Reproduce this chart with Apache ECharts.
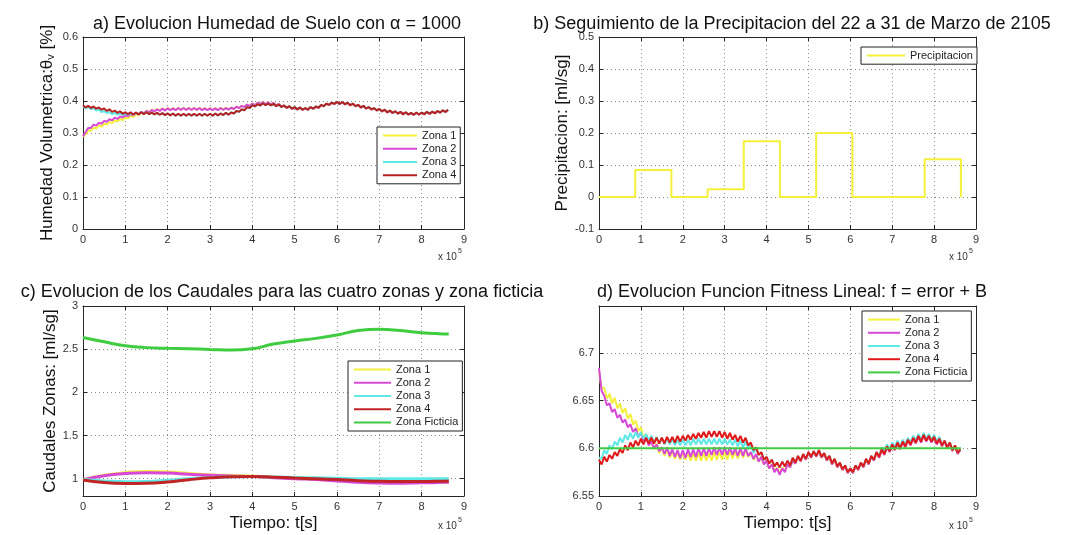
<!DOCTYPE html>
<html>
<head>
<meta charset="utf-8">
<script src="https://cdn.jsdelivr.net/npm/echarts@6/dist/echarts.min.js"></script>
<style>
  html, body { margin: 0; background: #fff; }
  #chart { width: 1079px; height: 535px; }
</style>
</head>
<body>
<div id="chart"></div>
<script>
// --- data ---
// a) and d) are sampled every 6250 s
const sampleStep = 6250;

const humedadZona1 = [
  0.288, 0.296, 0.308, 0.307, 0.317, 0.314, 0.323, 0.320, 0.329, 0.326, 0.334, 0.331,
  0.339, 0.336, 0.344, 0.340, 0.349, 0.345, 0.354, 0.350, 0.359, 0.355, 0.364, 0.360,
  0.370, 0.365, 0.373, 0.368, 0.375, 0.370, 0.377, 0.371, 0.378, 0.372, 0.378, 0.372,
  0.379, 0.373, 0.379, 0.373, 0.379, 0.373, 0.379, 0.373, 0.379, 0.372, 0.378, 0.372,
  0.378, 0.372, 0.378, 0.372, 0.379, 0.373, 0.379, 0.374,
  0.379, 0.375, 0.382, 0.378, 0.385, 0.381, 0.389, 0.384, 0.392, 0.387, 0.395, 0.390,
  0.397, 0.390, 0.396, 0.389, 0.394, 0.386, 0.391, 0.383, 0.385, 0.378, 0.383, 0.375,
  0.380, 0.373, 0.379, 0.372, 0.377, 0.372, 0.380, 0.375, 0.382, 0.378, 0.387, 0.383,
  0.391, 0.387, 0.394, 0.390, 0.397, 0.390, 0.396, 0.389, 0.394, 0.386, 0.391, 0.383,
  0.387, 0.379, 0.384, 0.376, 0.380, 0.373, 0.377, 0.370, 0.374, 0.367, 0.372, 0.364,
  0.369, 0.362, 0.367, 0.360, 0.365, 0.358, 0.364, 0.357, 0.362, 0.356, 0.363, 0.357,
  0.363, 0.358, 0.365, 0.359, 0.366, 0.361, 0.368, 0.363, 0.370, 0.365, 0.372
];
const humedadZona2 = [
  0.290, 0.303, 0.316, 0.316, 0.326, 0.323, 0.332, 0.329, 0.338, 0.335, 0.343, 0.340,
  0.348, 0.344, 0.352, 0.348, 0.356, 0.352, 0.360, 0.355, 0.363, 0.359, 0.366, 0.362,
  0.369, 0.364, 0.372, 0.367, 0.374, 0.369, 0.376, 0.370, 0.377, 0.371, 0.377, 0.371,
  0.378, 0.372, 0.378, 0.372, 0.378, 0.372, 0.378, 0.372, 0.378, 0.371, 0.377, 0.371,
  0.377, 0.371, 0.377, 0.371, 0.378, 0.372, 0.378, 0.373,
  0.379, 0.375, 0.382, 0.378, 0.385, 0.381, 0.389, 0.384, 0.392, 0.387, 0.395, 0.390,
  0.397, 0.390, 0.396, 0.389, 0.394, 0.386, 0.391, 0.383, 0.385, 0.378, 0.383, 0.375,
  0.380, 0.373, 0.379, 0.372, 0.377, 0.372, 0.380, 0.375, 0.382, 0.378, 0.387, 0.383,
  0.391, 0.387, 0.394, 0.390, 0.397, 0.390, 0.396, 0.389, 0.394, 0.386, 0.391, 0.383,
  0.387, 0.379, 0.384, 0.376, 0.380, 0.373, 0.377, 0.370, 0.374, 0.367, 0.372, 0.364,
  0.369, 0.362, 0.367, 0.360, 0.365, 0.358, 0.364, 0.357, 0.362, 0.356, 0.363, 0.357,
  0.363, 0.358, 0.365, 0.359, 0.366, 0.361, 0.368, 0.363, 0.370, 0.365, 0.372
];
const humedadZona3 = [
  0.384, 0.377, 0.381, 0.374, 0.378, 0.370, 0.374, 0.365, 0.369, 0.362, 0.366, 0.359,
  0.363, 0.357, 0.362, 0.356, 0.362, 0.357, 0.363, 0.357,
  0.364, 0.358, 0.365, 0.359, 0.365, 0.359, 0.364, 0.358, 0.363, 0.357, 0.362, 0.356,
  0.361, 0.355, 0.361, 0.354, 0.360, 0.354, 0.360, 0.354, 0.360, 0.354, 0.360, 0.354,
  0.360, 0.354, 0.360, 0.354, 0.360, 0.354, 0.361, 0.355, 0.361, 0.356, 0.363, 0.357,
  0.364, 0.361, 0.369, 0.366, 0.374, 0.371, 0.381, 0.378, 0.387, 0.383, 0.390, 0.386,
  0.393, 0.387, 0.392, 0.386, 0.391, 0.384, 0.389, 0.381, 0.386, 0.379, 0.384, 0.376,
  0.381, 0.374, 0.380, 0.373, 0.378, 0.373, 0.381, 0.376, 0.383, 0.379, 0.388, 0.384,
  0.392, 0.388, 0.395, 0.391, 0.398, 0.391, 0.397, 0.390, 0.395, 0.387, 0.392, 0.384,
  0.388, 0.380, 0.385, 0.377, 0.381, 0.374, 0.378, 0.371, 0.375, 0.368, 0.373, 0.365,
  0.370, 0.363, 0.368, 0.361, 0.366, 0.359, 0.365, 0.358, 0.363, 0.357, 0.364, 0.358,
  0.364, 0.359, 0.366, 0.360, 0.367, 0.362, 0.369, 0.364, 0.371, 0.366, 0.373
];
const humedadZona4 = [
  0.387, 0.380, 0.385, 0.378, 0.383, 0.376, 0.380, 0.373, 0.377, 0.369, 0.374, 0.366,
  0.370, 0.363, 0.368, 0.360, 0.365, 0.359, 0.365, 0.358,
  0.364, 0.358, 0.365, 0.359, 0.365, 0.359, 0.364, 0.358, 0.363, 0.357, 0.362, 0.356,
  0.361, 0.355, 0.361, 0.354, 0.360, 0.354, 0.360, 0.354, 0.360, 0.354, 0.360, 0.354,
  0.360, 0.354, 0.360, 0.354, 0.360, 0.354, 0.361, 0.355, 0.361, 0.356, 0.363, 0.357,
  0.364, 0.361, 0.369, 0.366, 0.374, 0.371, 0.381, 0.378, 0.387, 0.383, 0.390, 0.386,
  0.393, 0.387, 0.392, 0.386, 0.391, 0.384, 0.389, 0.381, 0.386, 0.379, 0.384, 0.376,
  0.381, 0.374, 0.380, 0.373, 0.378, 0.373, 0.381, 0.376, 0.383, 0.379, 0.388, 0.384,
  0.392, 0.388, 0.395, 0.391, 0.398, 0.391, 0.397, 0.390, 0.395, 0.387, 0.392, 0.384,
  0.388, 0.380, 0.385, 0.377, 0.381, 0.374, 0.378, 0.371, 0.375, 0.368, 0.373, 0.365,
  0.370, 0.363, 0.368, 0.361, 0.366, 0.359, 0.365, 0.358, 0.363, 0.357, 0.364, 0.358,
  0.364, 0.359, 0.366, 0.360, 0.367, 0.362, 0.369, 0.364, 0.371, 0.366, 0.373
];

// b) precipitation, one value per day (step plot)
const precipTimes = [0, 86400, 172800, 259200, 345600, 432000, 518400, 604800, 691200, 777600, 864000];
const precipValues = [0, 0.084, 0, 0.024, 0.174, 0, 0.2, 0, 0, 0.118, 0];

// c) flows
const caudalTimes = [0, 50000, 100000, 150000, 200000, 250000, 300000, 350000, 400000, 450000,
  500000, 550000, 600000, 650000, 700000, 750000, 800000, 850000, 864000];
const caudalZona1 = [0.99, 1.04, 1.07, 1.085, 1.078, 1.062, 1.047, 1.037, 1.03, 1.018,
  1.005, 0.995, 0.985, 0.972, 0.963, 0.958, 0.958, 0.962, 0.965];
const caudalZona2 = [0.99, 1.035, 1.06, 1.07, 1.065, 1.052, 1.04, 1.032, 1.025, 1.012,
  1.0, 0.99, 0.975, 0.958, 0.95, 0.948, 0.952, 0.958, 0.96];
const caudalZona3 = [0.99, 0.975, 0.965, 0.968, 0.982, 1.0, 1.015, 1.022, 1.025, 1.02,
  1.015, 1.01, 1.005, 1.0, 1.0, 1.0, 1.0, 1.0, 1.0];
const caudalZona4 = [0.985, 0.955, 0.945, 0.947, 0.962, 0.988, 1.01, 1.023, 1.025, 1.018,
  1.008, 1.0, 0.99, 0.978, 0.97, 0.968, 0.968, 0.972, 0.975];
const caudalFicticia = [2.635, 2.585, 2.54, 2.518, 2.51, 2.505, 2.497, 2.49, 2.505, 2.56,
  2.595, 2.625, 2.665, 2.715, 2.73, 2.715, 2.69, 2.677, 2.675];

// d) fitness
const fitnessZona1 = [
  6.680, 6.663, 6.663, 6.652, 6.657, 6.647, 6.653, 6.642, 6.647, 6.637, 6.642, 6.631,
  6.636, 6.625, 6.629, 6.618, 6.622, 6.611, 6.615, 6.604, 6.609, 6.599, 6.605, 6.595,
  6.601, 6.592, 6.599, 6.590, 6.597, 6.589, 6.596, 6.588, 6.596, 6.588, 6.595, 6.587,
  6.595, 6.587, 6.595, 6.587, 6.595, 6.587, 6.595, 6.587, 6.596, 6.588, 6.596, 6.588,
  6.596, 6.588, 6.597, 6.589, 6.597, 6.589, 6.598, 6.590, 6.598, 6.591, 6.595, 6.588,
  6.593, 6.586, 6.591, 6.583, 6.587, 6.579, 6.583, 6.576, 6.580, 6.574, 6.580, 6.576,
  6.583, 6.580, 6.587, 6.584,
  6.591, 6.586, 6.593, 6.588, 6.595, 6.590, 6.596, 6.591, 6.597, 6.590, 6.594, 6.587,
  6.591, 6.583, 6.588, 6.580, 6.584, 6.577, 6.581, 6.574, 6.578, 6.574, 6.581, 6.577,
  6.584, 6.580, 6.588, 6.583, 6.591, 6.587, 6.595, 6.590, 6.598, 6.593, 6.601, 6.596,
  6.603, 6.598, 6.605, 6.599, 6.606, 6.601, 6.608, 6.603, 6.610, 6.605, 6.612, 6.606,
  6.613, 6.607, 6.612, 6.606, 6.611, 6.604, 6.609, 6.602, 6.607, 6.600, 6.605, 6.597,
  6.602, 6.594, 6.598
];
const fitnessZona2 = [
  6.684, 6.660, 6.655, 6.645, 6.647, 6.638, 6.641, 6.632, 6.635, 6.627, 6.630, 6.622,
  6.625, 6.617, 6.621, 6.612, 6.616, 6.608, 6.611, 6.603, 6.607, 6.600, 6.604, 6.597,
  6.601, 6.594, 6.601, 6.592, 6.599, 6.591, 6.598, 6.590, 6.598, 6.590, 6.599, 6.591,
  6.599, 6.591, 6.600, 6.592, 6.600, 6.592, 6.600, 6.593, 6.601, 6.593, 6.601, 6.593,
  6.601, 6.593, 6.601, 6.593, 6.600, 6.592, 6.600, 6.592, 6.600, 6.592, 6.596, 6.589,
  6.594, 6.586, 6.591, 6.583, 6.587, 6.579, 6.583, 6.575, 6.579, 6.572, 6.579, 6.575,
  6.583, 6.580, 6.587, 6.584,
  6.591, 6.586, 6.593, 6.588, 6.595, 6.590, 6.596, 6.591, 6.597, 6.590, 6.594, 6.587,
  6.591, 6.583, 6.588, 6.580, 6.584, 6.577, 6.581, 6.574, 6.578, 6.574, 6.581, 6.577,
  6.584, 6.580, 6.588, 6.583, 6.591, 6.587, 6.595, 6.590, 6.598, 6.593, 6.601, 6.596,
  6.603, 6.598, 6.605, 6.599, 6.606, 6.601, 6.608, 6.603, 6.610, 6.605, 6.612, 6.606,
  6.613, 6.607, 6.612, 6.606, 6.611, 6.604, 6.609, 6.602, 6.607, 6.600, 6.605, 6.597,
  6.602, 6.594, 6.598
];
const fitnessZona3 = [
  6.590, 6.589, 6.598, 6.594, 6.603, 6.599, 6.607, 6.603, 6.611, 6.606, 6.614, 6.609,
  6.616, 6.610, 6.617, 6.611, 6.617, 6.610, 6.615, 6.608, 6.613, 6.606, 6.612, 6.605,
  6.611, 6.604, 6.610, 6.604, 6.610, 6.603, 6.609, 6.603, 6.609, 6.603, 6.609, 6.603,
  6.610, 6.604, 6.610, 6.604, 6.610, 6.604, 6.610, 6.604, 6.610, 6.604, 6.610, 6.604,
  6.610, 6.604, 6.609, 6.603, 6.609, 6.602, 6.608, 6.601, 6.607, 6.599, 6.603, 6.595,
  6.601, 6.593, 6.596, 6.588, 6.591, 6.584, 6.588, 6.581, 6.585, 6.580, 6.586, 6.581,
  6.587, 6.582, 6.590, 6.585, 6.592, 6.587, 6.594, 6.589, 6.596, 6.591, 6.597, 6.592,
  6.598, 6.591, 6.595, 6.588, 6.592, 6.584, 6.589, 6.581, 6.585, 6.578, 6.582, 6.575,
  6.579, 6.575, 6.582, 6.578, 6.585, 6.581, 6.589, 6.584, 6.592, 6.588, 6.596, 6.591,
  6.601, 6.596, 6.604, 6.599, 6.606, 6.601, 6.608, 6.602, 6.609, 6.604, 6.611, 6.606,
  6.613, 6.608, 6.615, 6.609, 6.616, 6.610, 6.615, 6.609, 6.614, 6.607, 6.612,
  6.603, 6.608, 6.601, 6.606, 6.598, 6.603, 6.595, 6.599
];
const fitnessZona4 = [
  6.588, 6.583, 6.591, 6.586, 6.593, 6.589, 6.596, 6.592, 6.599, 6.595, 6.603, 6.598,
  6.606, 6.601, 6.608, 6.603, 6.610, 6.604, 6.611, 6.605, 6.611, 6.605, 6.611, 6.605,
  6.611, 6.605, 6.612, 6.606, 6.612, 6.606, 6.613, 6.607, 6.613, 6.608, 6.614, 6.609,
  6.615, 6.610, 6.616, 6.611, 6.617, 6.611, 6.618, 6.612, 6.618, 6.612, 6.618, 6.611,
  6.617, 6.610, 6.616, 6.609, 6.614, 6.607, 6.613, 6.606, 6.611, 6.603, 6.606, 6.598,
  6.601, 6.593, 6.596, 6.588, 6.591, 6.584, 6.588, 6.581, 6.585, 6.580, 6.586, 6.581,
  6.587, 6.582, 6.590, 6.585, 6.592, 6.587, 6.594, 6.589, 6.596, 6.591, 6.597, 6.592,
  6.598, 6.591, 6.595, 6.588, 6.592, 6.584, 6.589, 6.581, 6.585, 6.578, 6.582, 6.575,
  6.579, 6.575, 6.582, 6.578, 6.585, 6.581, 6.589, 6.584, 6.592, 6.588, 6.596, 6.591,
  6.599, 6.594, 6.602, 6.597, 6.604, 6.599, 6.606, 6.600, 6.607, 6.602, 6.609, 6.604,
  6.611, 6.606, 6.613, 6.607, 6.614, 6.608, 6.613, 6.607, 6.612, 6.605, 6.610, 6.603,
  6.608, 6.601, 6.606, 6.598, 6.603, 6.595, 6.599
];
const fitnessFicticiaTimes = [0, 864000];
const fitnessFicticia = [6.6, 6.6];

const xTicks = [0, 100000, 200000, 300000, 400000, 500000, 600000, 700000, 800000, 900000];
const caudalTicks = [1, 1.5, 2, 2.5, 3];
const fitnessTicks = [6.55, 6.6, 6.65, 6.7];

// --- styles ---
const FONT = '"Liberation Sans", Arial, sans-serif';
const YELLOW = '#f4f03c', MAGENTA = '#d848d8', CYAN = '#5ee8e8', GREEN = '#40cc40';

const grids = [
  { left: 83, top: 37, width: 381, height: 192 },
  { left: 599, top: 37, width: 377, height: 192 },
  { left: 83, top: 306, width: 381, height: 190 },
  { left: 599, top: 306, width: 377, height: 190 }
];

function sampled(values) {
  return values.map((v, i) => [i * sampleStep, v]);
}
function paired(times, values) {
  return values.map((v, i) => [times[i], v]);
}

const axisColor = '#262626';
function xAxisPair(g, name) {
  const common = {
    gridIndex: g, type: 'value', min: xTicks[0], max: xTicks[xTicks.length - 1],
    interval: xTicks[1] - xTicks[0],
    axisTick: { inside: true, length: 4, lineStyle: { color: axisColor } },
    axisLine: { show: true, onZero: false, lineStyle: { color: axisColor } }
  };
  return [
    Object.assign({}, common, {
      position: 'bottom',
      axisLabel: { color: '#333', fontSize: 11, fontFamily: FONT, margin: 5, formatter: v => String(v / 100000) },
      splitLine: { show: true, lineStyle: { color: '#8c8c8c', type: [1, 3] } },
      name: name || '', nameLocation: 'middle', nameGap: 19,
      nameTextStyle: { fontSize: 17, color: '#111', fontFamily: FONT }
    }),
    Object.assign({}, common, {
      position: 'top', axisLabel: { show: false }, splitLine: { show: false }
    })
  ];
}

function yAxisPair(g, o) {
  const common = {
    gridIndex: g, type: 'value', min: o.min, max: o.max, interval: o.interval,
    axisLine: { show: true, onZero: false, lineStyle: { color: axisColor } },
    axisTick: { inside: true, length: 4, lineStyle: { color: axisColor }, customValues: o.ticks }
  };
  return [
    Object.assign({}, common, {
      position: 'left',
      axisLabel: { color: '#333', fontSize: 11, fontFamily: FONT, margin: 5, customValues: o.ticks },
      splitLine: { show: true, lineStyle: { color: '#8c8c8c', type: [1, 3] } },
      name: o.name || '', nameLocation: 'middle', nameGap: o.nameGap,
      nameTextStyle: {
        fontSize: 17, color: '#111', fontFamily: FONT,
        rich: { v: { fontSize: 11, color: '#111', fontFamily: FONT, padding: [7, 0, 0, 0] } }
      }
    }),
    Object.assign({}, common, {
      position: 'right', axisLabel: { show: false }, splitLine: { show: false }
    })
  ];
}

function line(name, data, color, g, width, smooth) {
  return {
    type: 'line', name: name, data: data,
    xAxisIndex: 2 * g, yAxisIndex: 2 * g,
    symbol: 'none', showSymbol: false, smooth: !!smooth,
    lineStyle: { color: color, width: width }, itemStyle: { color: color },
    z: 3
  };
}

function legendBox(names, left, top, iconWidth) {
  return {
    data: names, left: left, top: top, orient: 'vertical',
    itemWidth: iconWidth, itemHeight: 14, itemGap: 2,
    padding: [3, 4, 3, 5],
    backgroundColor: '#fff', borderColor: '#222', borderWidth: 1, borderRadius: 0,
    selectedMode: false,
    itemStyle: { opacity: 0 },
    formatter: n => n.split('#')[0],
    textStyle: { fontSize: 11, color: '#222', fontFamily: FONT }
  };
}

function exponentLabel(right, y) {
  return [
    { type: 'text', left: right - 27, top: y - 6,
      style: { text: 'x 10', fontSize: 10, fill: '#333', fontFamily: FONT } },
    { type: 'text', left: right - 7, top: y - 10,
      style: { text: '5', fontSize: 7, fill: '#333', fontFamily: FONT } }
  ];
}

const titleStyle = { fontSize: 18, fontWeight: 'normal', color: '#111', fontFamily: FONT };

const namesC = ['Zona 1#c', 'Zona 2#c', 'Zona 3#c', 'Zona 4#c', 'Zona Ficticia#c'];
const namesD = ['Zona 1#d', 'Zona 2#d', 'Zona 3#d', 'Zona 4#d', 'Zona Ficticia#d'];

const option = {
  animation: false,
  backgroundColor: '#fff',
  title: [
    { text: 'a) Evolucion Humedad de Suelo con \u03b1 = 1000', left: 272, top: 10, textAlign: 'center', textStyle: titleStyle },
    { text: 'b) Seguimiento de la Precipitacion del 22 a 31 de Marzo de 2105', left: 787, top: 10, textAlign: 'center', textStyle: titleStyle },
    { text: 'c) Evolucion de los Caudales para las cuatro zonas y zona ficticia', left: 277, top: 278, textAlign: 'center', textStyle: titleStyle },
    { text: 'd) Evolucion Funcion Fitness Lineal: f = error + B', left: 787, top: 278, textAlign: 'center', textStyle: titleStyle }
  ],
  grid: grids.map(g => Object.assign({ show: false, outerBoundsMode: 'none', containLabel: false }, g)),
  xAxis: [].concat(
    xAxisPair(0), xAxisPair(1), xAxisPair(2, 'Tiempo: t[s]'), xAxisPair(3, 'Tiempo: t[s]')
  ),
  yAxis: [].concat(
    yAxisPair(0, { min: 0, max: 0.6, interval: 0.1, name: 'Humedad Volumetrica:\u03b8{v|v} [%]', nameGap: 27 }),
    yAxisPair(1, { min: -0.1, max: 0.5, interval: 0.1, name: 'Precipitacion: [ml/sg]', nameGap: 27 }),
    yAxisPair(2, { min: 0.8, max: 3, ticks: caudalTicks, name: 'Caudales Zonas: [ml/sg]', nameGap: 24 }),
    yAxisPair(3, { min: 6.55, max: 6.749, ticks: fitnessTicks, nameGap: 30 })
  ),
  legend: [
    legendBox(['Zona 1', 'Zona 2', 'Zona 3', 'Zona 4'], 377, 127, 34),
    legendBox(['Precipitacion'], 861, 47, 38),
    legendBox(namesC, 348, 361, 37),
    legendBox(namesD, 862, 311, 32)
  ],
  graphic: [].concat(
    exponentLabel(465, 258), exponentLabel(976, 258),
    exponentLabel(465, 527), exponentLabel(976, 527)
  ),
  series: [
    line('Zona 1', sampled(humedadZona1), YELLOW, 0, 2),
    line('Zona 2', sampled(humedadZona2), MAGENTA, 0, 2),
    line('Zona 3', sampled(humedadZona3), CYAN, 0, 2),
    line('Zona 4', sampled(humedadZona4), '#b82020', 0, 2),

    Object.assign(line('Precipitacion', paired(precipTimes, precipValues), YELLOW, 1, 2), { step: 'end' }),

    line(namesC[0], paired(caudalTimes, caudalZona1), YELLOW, 2, 3, true),
    line(namesC[1], paired(caudalTimes, caudalZona2), MAGENTA, 2, 3, true),
    line(namesC[2], paired(caudalTimes, caudalZona3), CYAN, 2, 3, true),
    line(namesC[3], paired(caudalTimes, caudalZona4), '#c02424', 2, 3, true),
    line(namesC[4], paired(caudalTimes, caudalFicticia), GREEN, 2, 3, true),

    line(namesD[0], sampled(fitnessZona1), YELLOW, 3, 2),
    line(namesD[1], sampled(fitnessZona2), MAGENTA, 3, 2),
    line(namesD[2], sampled(fitnessZona3), CYAN, 3, 2),
    line(namesD[3], sampled(fitnessZona4), '#e01818', 3, 2),
    line(namesD[4], paired(fitnessFicticiaTimes, fitnessFicticia), GREEN, 3, 2)
  ]
};

const chart = echarts.init(document.getElementById('chart'), null, { renderer: 'canvas' });
chart.setOption(option);
window.addEventListener('resize', () => chart.resize());
</script>
</body>
</html>
